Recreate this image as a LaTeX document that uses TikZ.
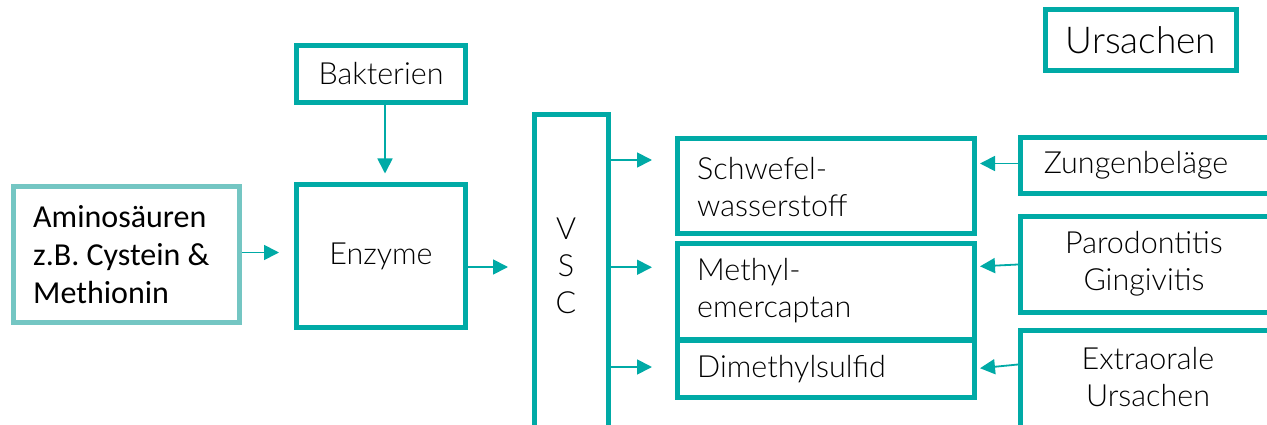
\documentclass[tikz,border=0pt]{standalone}
\usepackage{fontspec}
\setmainfont{Lato}[UprightFont=* Light]
\newfontfamily\calib{Carlito}
\usetikzlibrary{arrows.meta}
\definecolor{tealA}{HTML}{00AAA6}
\definecolor{tealB}{HTML}{74C6C3}
\begin{document}
\begin{tikzpicture}[x=1pt,y=-1pt,
  box/.style={draw=tealA,line width=5pt,inner sep=0pt,minimum width=#1},
  box/.default=10pt,
  txt/.style={font=\fontsize{30.5}{37}\selectfont,align=left,inner sep=0pt,anchor=west},
  ctxt/.style={font=\fontsize{30.5}{37}\selectfont,align=center,inner sep=0pt},
  arr/.style={draw=tealA,line width=1.8pt,-{Triangle[length=15pt,width=15pt]}}]
\useasboundingbox (0,0) rectangle (1267,425);
% boxes
\node[box=226pt,draw=tealB,minimum height=136pt] (amino) at (126.5,254.5) {};
\node[anchor=west,inner sep=0pt,align=left,font=\calib\fontsize{32}{38}\selectfont] (aminot) at (33,255) {Aminosäuren\\z.B. Cystein \&\\Methionin};
\node[box=169pt,minimum height=57pt,ctxt] (bakt) at (381,74) {Bakterien};
\node[box=169pt,minimum height=142pt,ctxt] (enz) at (381,256) {Enzyme};
\node[box=74pt,minimum height=330pt] (vsc) at (571.5,279.5) {};
\node[ctxt] (vsct) at (566,266) {V\\S\\C};
\node[box=297pt,minimum height=95pt] (schw) at (826,186) {};
\node[txt] (schwt) at (697,187) {Schwefel-\\wasserstoff};
\node[box=297pt,minimum height=95.5pt] (meth) at (826,291.25) {};
\node[txt] (metht) at (697,291) {Methyl-\\emercaptan};
\node[box=297pt,minimum height=57.5pt] (dime) at (826,368.75) {};
\node[txt] (dimet) at (697,369) {Dimethylsulfid};
\node[box=300pt,minimum height=56pt] (zung) at (1170.5,165.5) {};
\node[ctxt] (zungt) at (1136,165) {Zungenbeläge};
\node[box=300pt,minimum height=96pt] (paro) at (1170.5,264.5) {};
\node[ctxt] (parot) at (1144,264) {Parodontitis\\Gingivitis};
\node[box=300pt,minimum height=110pt] (extr) at (1170.5,385.5) {};
\node[ctxt] (extrt) at (1148,377) {Extraorale\\Ursachen};
\node[box=191pt,minimum height=61pt,font=\fontsize{37}{37}\selectfont] (urs) at (1141,40) {Ursachen};
% arrows
\coordinate (a1) at ([yshift=2pt]amino.east);
\draw[arr,shorten >=15pt] (a1) -- (a1 -| enz.west);
\coordinate (b1) at ([xshift=4pt]bakt.south);
\draw[arr,shorten >=9pt] (b1) -- (b1 |- enz.north);
\coordinate (e1) at ([yshift=-11pt]enz.east);
\draw[arr,shorten >=24pt] (e1) -- (e1 -| vsc.west);
\coordinate (v1) at ([yshift=26pt]vsc.east |- schw.west);
\coordinate (v2) at ([yshift=24pt]vsc.east |- meth.west);
\coordinate (v3) at ([yshift=1.75pt]vsc.east |- dime.west);
\draw[arr,shorten >=23pt] (v1) -- (v1 -| schw.west);
\draw[arr,shorten >=23pt] (v2) -- (v2 -| meth.west);
\draw[arr,shorten >=23pt] (v3) -- (v3 -| dime.west);
\draw[arr,shorten >=3pt] ([yshift=2pt]zung.west) -- ([yshift=2pt]zung.west -| schw.east);
\draw[arr,shorten >=3pt] (paro.west) -- ([yshift=-2pt]paro.west -| meth.east);
\draw[arr,shorten >=3pt] ([yshift=21pt]extr.west) -- ([yshift=17pt]extr.west -| dime.east);
\end{tikzpicture}
\end{document}
